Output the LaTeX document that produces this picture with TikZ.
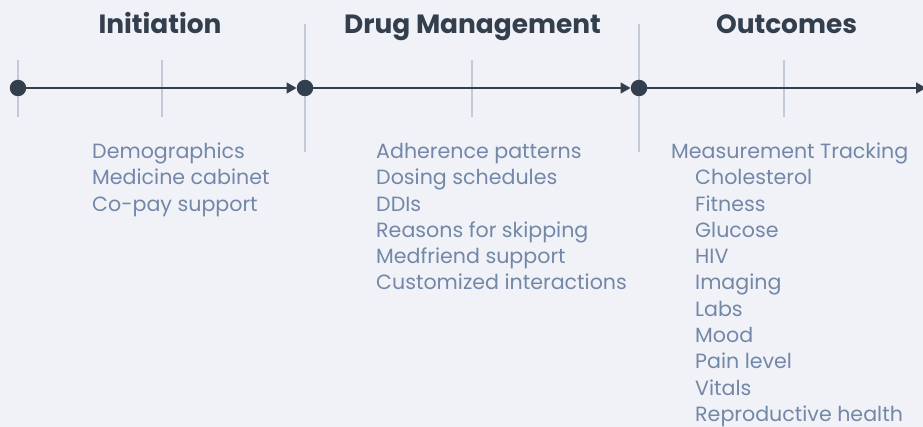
\documentclass[tikz,border=0pt]{standalone}
\usepackage{fontspec}
\setmainfont{Poppins}
\usetikzlibrary{arrows.meta}
\definecolor{bg}{HTML}{F0F2F7}
\definecolor{axis}{HTML}{343F4E}
\definecolor{tick}{HTML}{C3CBD8}
\definecolor{item}{HTML}{7388A8}
\tikzset{
  dot/.style={circle,fill=axis,inner sep=0pt,minimum size=16.5pt},
  axisline/.style={draw=axis,line width=1.6pt,-{Triangle[length=10pt,width=11pt]}},
  tickline/.style={draw=tick,line width=1.3pt},
  header/.style={font=\fontsize{26.4}{30}\selectfont\bfseries,text=axis,anchor=base},
  itemtext/.style={font=\fontsize{20.6}{24}\selectfont,text=item,anchor=base west,inner sep=0pt},
}
\begin{document}
\begin{tikzpicture}[x=1pt,y=-1pt]
\useasboundingbox (0,0) rectangle (923,427);
\fill[bg] (0,0) rectangle (923,427);
\clip (0,0) rectangle (923,427);
% ticks
\draw[tickline] (18,60) -- (18,117);
\draw[tickline] (162,60) -- (162,117);
\draw[tickline] (305,24) -- (305,152);
\draw[tickline] (472,60) -- (472,117);
\draw[tickline] (639,24) -- (639,152);
\draw[tickline] (784,60) -- (784,117);
% dots
\node[dot] (d1) at (18,88) {};
\node[dot] (d2) at (305,88) {};
\node[dot] (d3) at (639,88) {};
\coordinate (end) at (926,88);
\draw[axisline] (d1.center) -- (d2.west);
\draw[axisline] (d2.center) -- (d3.west);
\draw[axisline] (d3.center) -- (end);
% headers
\node[header] (h1) at (160,34) {Initiation};
\node[header] (h2) at (472.5,34) {Drug Management};
\node[header] (h3) at (786.5,34) {Outcomes};
% Initiation items
\node[itemtext] (i1) at (92,158.5) {Demographics};
\node[itemtext] (i2) at (92,185) {Medicine cabinet};
\node[itemtext] (i3) at (92,211.5) {Co-pay support};
% Drug items
\node[itemtext] (m1) at (376,158.5) {Adherence patterns};
\node[itemtext] (m2) at (376,184.8) {Dosing schedules};
\node[itemtext] (m3) at (376,211.1) {DDIs};
\node[itemtext] (m4) at (376,237.4) {Reasons for skipping};
\node[itemtext] (m5) at (376,263.7) {Medfriend support};
\node[itemtext] (m6) at (376,290) {Customized interactions};
% Outcome items
\node[itemtext] (o0) at (671,158.5) {Measurement Tracking};
\node[itemtext] (o1) at (695,184.8) {Cholesterol};
\node[itemtext] (o2) at (695,211.1) {Fitness};
\node[itemtext] (o3) at (695,237.4) {Glucose};
\node[itemtext] (o4) at (695,263.7) {HIV};
\node[itemtext] (o5) at (695,290) {Imaging};
\node[itemtext] (o6) at (695,316.3) {Labs};
\node[itemtext] (o7) at (695,342.6) {Mood};
\node[itemtext] (o8) at (695,368.9) {Pain level};
\node[itemtext] (o9) at (695,395.2) {Vitals};
\node[itemtext] (o10) at (695,421.5) {Reproductive health};
\end{tikzpicture}
\end{document}
